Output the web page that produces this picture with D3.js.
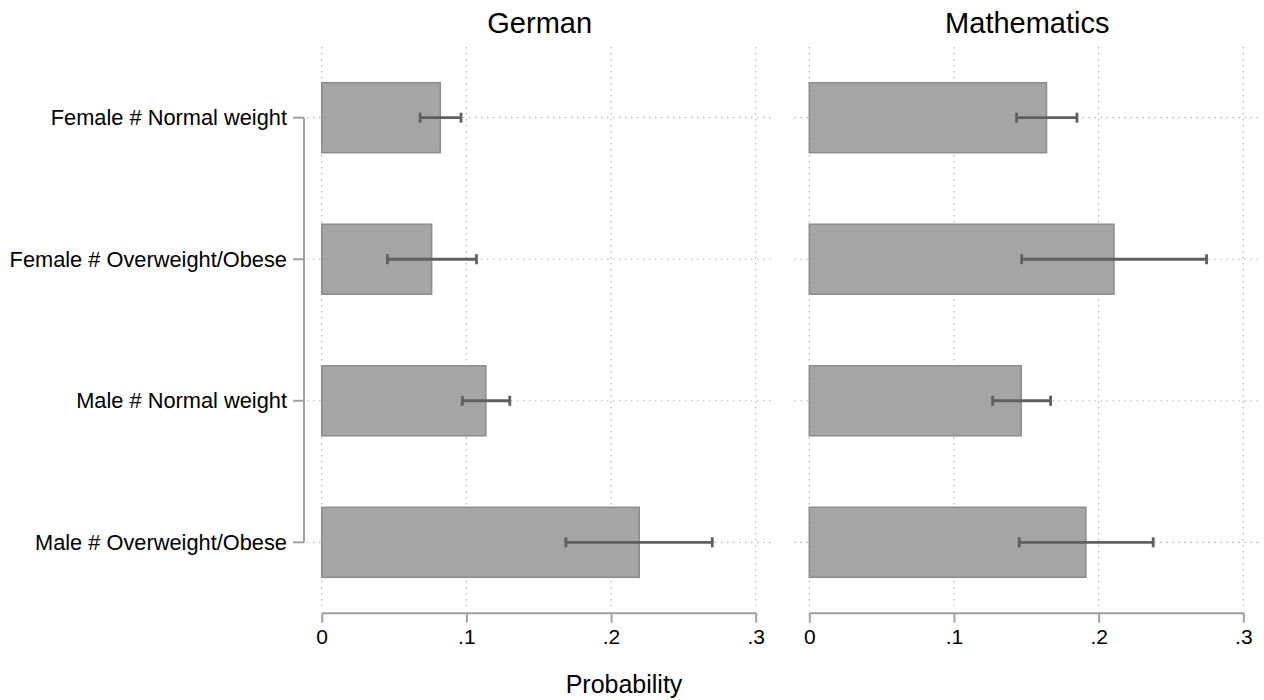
<!DOCTYPE html>
<html>
<head>
<meta charset="utf-8">
<script src="https://cdn.jsdelivr.net/npm/d3@7"></script>
<style>
  body { margin: 0; background: #fff; }
  svg { display: block; font-family: "Liberation Sans", Arial, Helvetica, sans-serif; }
</style>
</head>
<body>
<svg id="chart" width="1264" height="700"></svg>
<script>
// values
const categories = [
  "Female # Normal weight",
  "Female # Overweight/Obese",
  "Male # Normal weight",
  "Male # Overweight/Obese"
];
const panelTitles = ["German", "Mathematics"];
const germanProb = [0.082, 0.076, 0.1135, 0.2195];
const germanLo = [0.068, 0.0454, 0.0972, 0.1688];
const germanHi = [0.0963, 0.107, 0.130, 0.270];
const mathProb = [0.164, 0.2106, 0.1465, 0.1912];
const mathLo = [0.1433, 0.1468, 0.1267, 0.1451];
const mathHi = [0.185, 0.2746, 0.1668, 0.2377];
const tickValues = [0, 0.1, 0.2, 0.3];
const tickLabels = ["0", ".1", ".2", ".3"];

const panels = [
  { title: panelTitles[0], prob: germanProb, lo: germanLo, hi: germanHi, x0: 321.7 },
  { title: panelTitles[1], prob: mathProb, lo: mathLo, hi: mathHi, x0: 809.3 }
];

const svg = d3.select("#chart");
const panelWidth = 434;
const barHeight = 70;
const gridTop = 47, gridBottom = 606, axisY = 612.7;

const y = d3.scalePoint().domain(categories).range([117.7, 542.3]);

// category axis on the left
const yAxisX = 304;
svg.append("line")
  .attr("x1", yAxisX).attr("x2", yAxisX)
  .attr("y1", y(categories[0])).attr("y2", y(categories[categories.length - 1]))
  .attr("stroke", "#a0a0a0").attr("stroke-width", 2);
categories.forEach(c => {
  svg.append("line")
    .attr("x1", yAxisX - 11).attr("x2", yAxisX)
    .attr("y1", y(c)).attr("y2", y(c))
    .attr("stroke", "#a0a0a0").attr("stroke-width", 2);
  svg.append("text")
    .attr("x", 287).attr("y", y(c))
    .attr("dy", "0.35em")
    .attr("text-anchor", "end")
    .attr("font-size", 21.8)
    .attr("fill", "#000")
    .text(c);
});

panels.forEach(p => {
  const x = d3.scaleLinear().domain([0, 0.3]).range([p.x0, p.x0 + panelWidth]);
  const g = svg.append("g");

  // vertical dotted grid
  g.selectAll(".vgrid")
    .data(tickValues)
    .join("line")
    .attr("x1", d => x(d)).attr("x2", d => x(d))
    .attr("y1", gridTop).attr("y2", gridBottom)
    .attr("stroke", "#b4b4b4").attr("stroke-width", 1.2)
    .attr("stroke-dasharray", "1.5,4.5");

  // horizontal dotted grid
  g.selectAll(".hgrid")
    .data(categories)
    .join("line")
    .attr("x1", x(-0.0102)).attr("x2", x(0.3) + 19)
    .attr("y1", d => y(d)).attr("y2", d => y(d))
    .attr("stroke", "#b4b4b4").attr("stroke-width", 1.2)
    .attr("stroke-dasharray", "1.5,4.5");

  // bars
  g.selectAll(".bar")
    .data(categories)
    .join("rect")
    .attr("x", x(0))
    .attr("y", d => y(d) - barHeight / 2)
    .attr("width", (d, i) => x(p.prob[i]) - x(0))
    .attr("height", barHeight)
    .attr("fill", "#a5a5a5")
    .attr("stroke", "#8c8c8c")
    .attr("stroke-width", 1.5);

  // confidence intervals
  const ci = g.selectAll(".ci")
    .data(categories)
    .join("g")
    .attr("stroke", "#5f5f5f")
    .attr("stroke-width", 2.8);
  ci.append("line")
    .attr("x1", (d, i) => x(p.lo[i])).attr("x2", (d, i) => x(p.hi[i]))
    .attr("y1", d => y(d)).attr("y2", d => y(d));
  ci.append("line")
    .attr("x1", (d, i) => x(p.lo[i])).attr("x2", (d, i) => x(p.lo[i]))
    .attr("y1", d => y(d) - 5).attr("y2", d => y(d) + 5);
  ci.append("line")
    .attr("x1", (d, i) => x(p.hi[i])).attr("x2", (d, i) => x(p.hi[i]))
    .attr("y1", d => y(d) - 5).attr("y2", d => y(d) + 5);

  // x axis
  const xAxis = g.append("g")
    .attr("transform", `translate(0,${axisY})`)
    .call(d3.axisBottom(x)
      .tickValues(tickValues)
      .tickFormat((d, i) => tickLabels[i])
      .tickSize(10)
      .tickPadding(6)
      .tickSizeOuter(0));
  xAxis.select(".domain").attr("stroke", "#a0a0a0").attr("stroke-width", 2);
  xAxis.selectAll(".tick line").attr("stroke", "#a0a0a0").attr("stroke-width", 2);
  xAxis.selectAll(".tick text")
    .attr("font-size", 21)
    .attr("font-family", "'Liberation Sans', Arial, sans-serif")
    .attr("fill", "#000");

  // panel title
  g.append("text")
    .attr("x", x(0.15) + 1)
    .attr("y", 33)
    .attr("text-anchor", "middle")
    .attr("font-size", 29)
    .attr("fill", "#000")
    .text(p.title);
});

svg.append("text")
  .attr("x", 624)
  .attr("y", 693)
  .attr("text-anchor", "middle")
  .attr("font-size", 25)
  .attr("fill", "#000")
  .text("Probability");
</script>
</body>
</html>
